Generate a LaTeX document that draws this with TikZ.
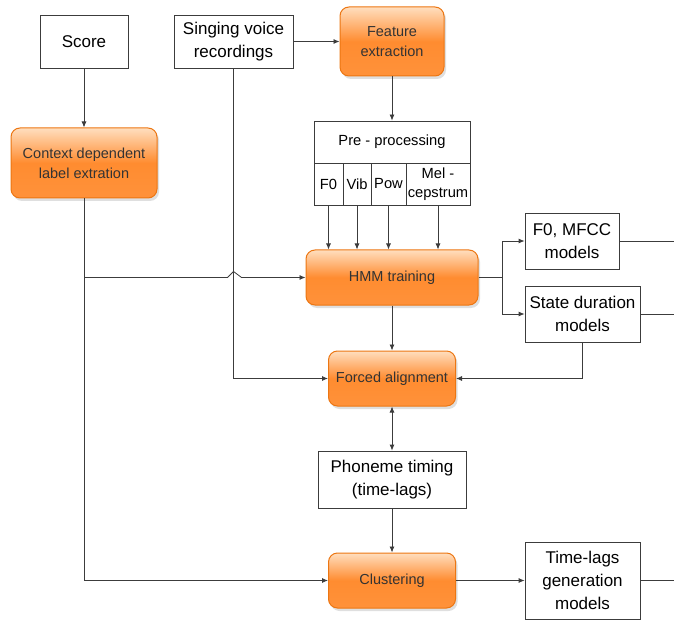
\documentclass[tikz,border=0pt]{standalone}
\usepackage{fontspec}
\setmainfont{Liberation Sans}
\usetikzlibrary{arrows.meta,shadows}
\definecolor{orbord}{RGB}{236,118,18}
\definecolor{ortop}{RGB}{255,222,190}
\definecolor{orbot}{RGB}{255,140,48}
\definecolor{lne}{RGB}{60,60,60}
\tikzset{
	box/.style={draw=lne, fill=white, line width=0.8pt, inner sep=0pt, align=center,
		font=\fontsize{17}{23}\selectfont},
	cell/.style={box, font=\fontsize{14.7}{19}\selectfont},
	obox/.style={draw=orbord, line width=1pt, rounded corners=9pt, inner sep=0pt, align=center,
		top color=ortop, bottom color=orbot!95, middle color=orbot,
		drop shadow={shadow xshift=2pt, shadow yshift=-3pt, opacity=0.25},
		text=black!80, font=\fontsize{14.5}{20}\selectfont},
	wire/.style={draw=lne, line width=0.8pt},
	>={Latex[length=6pt,width=5pt]}
}

\begin{document}
\begin{tikzpicture}[x=1pt, y=-1pt]
	\useasboundingbox (0,0) rectangle (674,620);

	\node[box, minimum width=88pt, minimum height=53pt] (score) at (84,41.5) {Score};
	\node[box, minimum width=119pt, minimum height=53pt] (rec) at (233.5,41.5) {Singing voice\\recordings};
	\node[obox, minimum width=104pt, minimum height=69pt] (feat) at (392,41.5) {Feature\\extraction};
	\node[obox, minimum width=146pt, minimum height=70pt] (ctx) at (84,163) {Context dependent\\label extration};

	\node[cell, minimum width=156pt, minimum height=42pt] (pre) at (392,142) {Pre - processing};
	\node[cell, minimum width=29pt, minimum height=42pt] (f0) at (328.5,184) {F0};
	\node[cell, minimum width=28pt, minimum height=42pt] (vib) at (357,184) {Vib};
	\node[cell, minimum width=35pt, minimum height=42pt] (pow) at (388.5,184) {Pow};
	\node[cell, minimum width=64pt, minimum height=42pt] (mel) at (438,184) {Mel -\\cepstrum};

	\node[obox, minimum width=172pt, minimum height=55pt] (hmm) at (392,277.5) {HMM training};
	\node[box, minimum width=94pt, minimum height=56pt] (mfcc) at (572,241) {F0, MFCC\\models};
	\node[box, minimum width=115pt, minimum height=56pt] (dur) at (582.5,314) {State duration\\models};
	\node[obox, minimum width=127pt, minimum height=55pt] (fa) at (392,378.5) {Forced alignment};
	\node[box, minimum width=148pt, minimum height=57pt] (pt) at (392,479.5) {Phoneme timing\\(time-lags)};
	\node[obox, minimum width=127pt, minimum height=55pt] (cl) at (392,580.5) {Clustering};
	\node[box, minimum width=115pt, minimum height=77pt] (tl) at (582.5,580.5) {Time-lags\\generation\\models};

	\coordinate (j) at (84,277.5);
	\coordinate (br) at (502,277.5);
	\coordinate (e1) at (674,241);
	\coordinate (e2) at (674,314);
	\coordinate (e3) at (674,580.5);

	\foreach \a / \b in {
	score/ctx, rec/feat, feat/pre,
	hmm/fa, pt/cl, cl/tl}
	{
		\path (\a) edge[wire, ->] (\b);
	};
	\foreach \i in {f0,vib,pow,mel}
	{
		\draw[wire, ->] (\i.south) -- (\i.south |- hmm.north);
	};
	\foreach \a / \b in {mfcc/e1, dur/e2, tl/e3}
	{
		\draw[wire] (\a.east) -- (\b);
	};

	\draw[wire] (hmm.east) -- (br);
	\draw[wire, ->] (br) |- (mfcc.west);
	\draw[wire, ->] (br) |- (dur.west);
	\draw[wire, ->] (dur.south) |- (fa.east);
	\draw[wire, ->] (rec.south) |- (fa.west);
	\draw[wire, ->] (ctx.south) |- (cl.west);
	\draw[wire, ->] (j) -- ([xshift=-6pt]rec.south |- j) -- ++(6pt,6pt) -- ++(8pt,-6pt) -- (hmm.west);
	\draw[wire, <->] (fa.south) -- (pt.north);
\end{tikzpicture}
\end{document}
